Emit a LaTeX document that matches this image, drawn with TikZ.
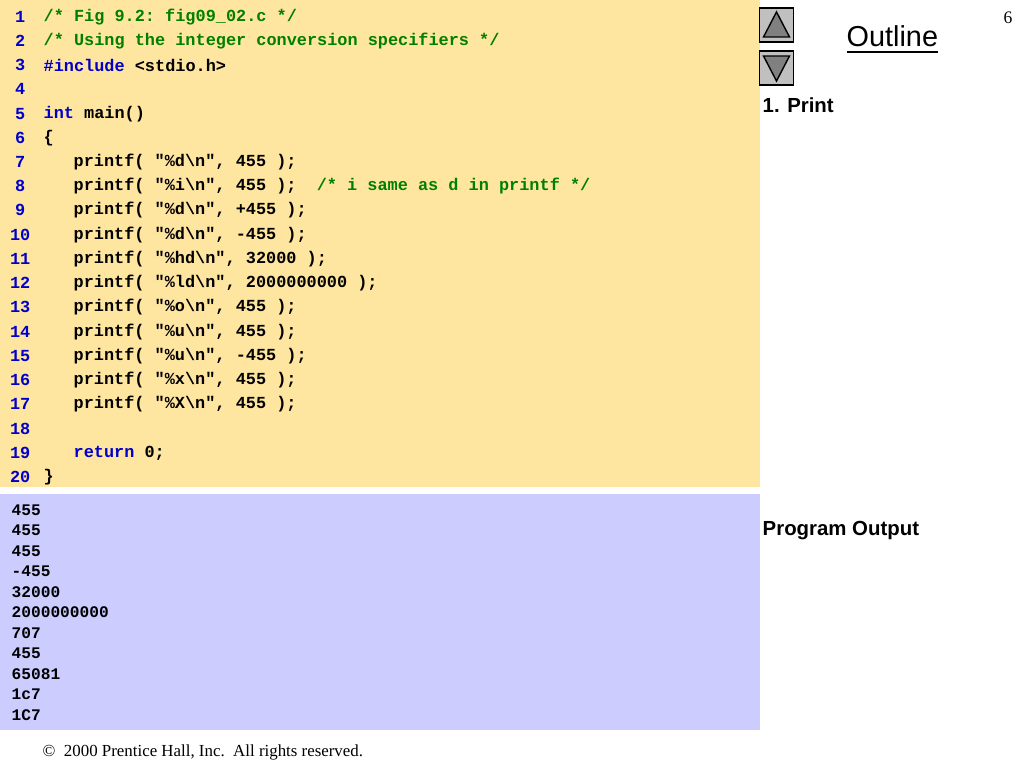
\documentclass[tikz,border=0pt]{standalone}
\usepackage{fontspec}
\setmainfont{Liberation Serif}
\setsansfont{Liberation Sans}
\setmonofont{Liberation Mono}
\definecolor{codebg}{HTML}{FFE6A0}
\definecolor{outbg}{HTML}{CCCCFF}
\definecolor{lnblue}{HTML}{0000CC}
\definecolor{cmtgreen}{HTML}{008000}
\definecolor{btngray}{HTML}{C0C0C0}
\begin{document}
\begin{tikzpicture}[x=0.01cm, y=-0.01cm,
    lnum/.style={font=\fontsize{4.8}{5}\ttfamily\bfseries, text=lnblue, anchor=east, inner sep=0pt},
    code/.style={font=\fontsize{4.8}{5}\ttfamily\bfseries, anchor=west, inner sep=0pt},
    outl/.style={font=\fontsize{4.6}{5}\ttfamily\bfseries, anchor=west, inner sep=0pt},
    side/.style={font=\fontsize{5.8}{6}\sffamily\bfseries, anchor=west, inner sep=0pt},
    btn/.style={draw=black, fill=btngray, line width=0.4pt}
  ]
  \useasboundingbox (0,0) rectangle (1024,768);

  % Code and output panels
  \fill[codebg] (0,0) rectangle (760,487);
  \fill[outbg] (0,494) rectangle (760,730);

  % Source listing
  \node[lnum] (n1) at (26,17) {1};
  \node[code, text=cmtgreen] (c1) at (43,17) {/* Fig 9.2: fig09\_02.c */};
  \node[lnum] (n2) at (26,41) {2};
  \node[code, text=cmtgreen] (c2) at (43,41) {/* Using the integer conversion specifiers */};
  \node[lnum] (n3) at (26,65) {3};
  \node[code] (c3) at (43,65) {\textcolor{lnblue}{\#include} <stdio.h>};
  \node[lnum] (n4) at (26,89) {4};
  \node[lnum] (n5) at (26,114) {5};
  \node[code] (c5) at (43,114) {\textcolor{lnblue}{int} main()};
  \node[lnum] (n6) at (26,138) {6};
  \node[code] (c6) at (43,138) {\{};
  \node[lnum] (n7) at (26,162) {7};
  \node[code] (c7) at (73,162) {printf( "\%d\textbackslash n", 455 );};
  \node[lnum] (n8) at (26,186) {8};
  \node[code] (c8) at (73,186) {printf( "\%i\textbackslash n", 455 );\ \ \textcolor{cmtgreen}{/* i same as d in printf */}};
  \node[lnum] (n9) at (26,210) {9};
  \node[code] (c9) at (73,210) {printf( "\%d\textbackslash n", +455 );};
  \node[lnum] (n10) at (31,235) {10};
  \node[code] (c10) at (73,235) {printf( "\%d\textbackslash n", -455 );};
  \node[lnum] (n11) at (31,259) {11};
  \node[code] (c11) at (73,259) {printf( "\%hd\textbackslash n", 32000 );};
  \node[lnum] (n12) at (31,283) {12};
  \node[code] (c12) at (73,283) {printf( "\%ld\textbackslash n", 2000000000 );};
  \node[lnum] (n13) at (31,307) {13};
  \node[code] (c13) at (73,307) {printf( "\%o\textbackslash n", 455 );};
  \node[lnum] (n14) at (31,332) {14};
  \node[code] (c14) at (73,332) {printf( "\%u\textbackslash n", 455 );};
  \node[lnum] (n15) at (31,356) {15};
  \node[code] (c15) at (73,356) {printf( "\%u\textbackslash n", -455 );};
  \node[lnum] (n16) at (31,380) {16};
  \node[code] (c16) at (73,380) {printf( "\%x\textbackslash n", 455 );};
  \node[lnum] (n17) at (31,404) {17};
  \node[code] (c17) at (73,404) {printf( "\%X\textbackslash n", 455 );};
  \node[lnum] (n18) at (31,429) {18};
  \node[lnum] (n19) at (31,453) {19};
  \node[code] (c19) at (73,453) {\textcolor{lnblue}{return} 0;};
  \node[lnum] (n20) at (31,477) {20};
  \node[code] (c20) at (43,477) {\}};

  % Program output
  \foreach \val [count=\i] in {455,455,455,-455,32000,2000000000,707,455,65081,1c7,1C7}
    \node[outl] (o\i) at (11,{510+20.5*(\i-1)}) {\val};

  % Side column
  \node[font=\fontsize{5}{6}\rmfamily] (page) at (1008,18) {6};
  \node[font=\fontsize{8.2}{9}\sffamily, anchor=west, inner sep=0pt] (outline) at (846,40) {\underline{Outline}};
  \node[btn, minimum width=33\pgflinewidth, inner sep=0pt, minimum size=0.34cm] (up) at (776.5,25) {};
  \node[btn, inner sep=0pt, minimum size=0.34cm] (down) at (776.5,68) {};
  \draw[fill=gray] ([xshift=-0.13cm,yshift=-0.12cm]up.center) -- ([yshift=0.13cm]up.center) -- ([xshift=0.13cm,yshift=-0.12cm]up.center) -- cycle;
  \draw[fill=gray] ([xshift=-0.13cm,yshift=0.12cm]down.center) -- ([yshift=-0.13cm]down.center) -- ([xshift=0.13cm,yshift=0.12cm]down.center) -- cycle;
  \node[side] (print) at (762,105) {1. Print};
  \node[side] (progout) at (762,531) {Program Output};

  % Footer
  \node[font=\fontsize{4.8}{5}\rmfamily, anchor=west, inner sep=0pt] (copy) at (42,752) {\textcopyright\ \ 2000 Prentice Hall, Inc.\ \ All rights reserved.};
\end{tikzpicture}
\end{document}
